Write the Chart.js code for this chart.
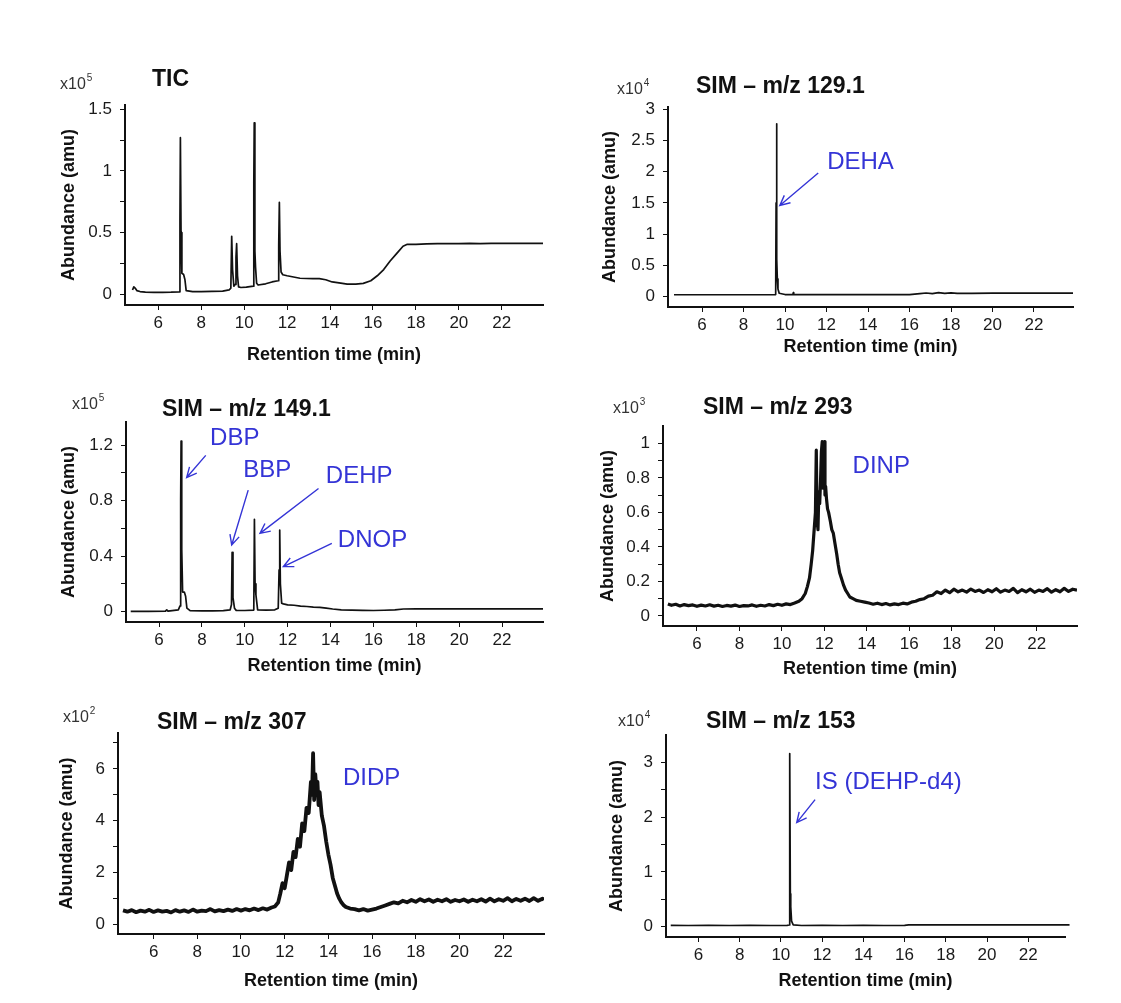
<!DOCTYPE html>
<html>
<head>
<meta charset="utf-8">
<script src="https://cdn.jsdelivr.net/npm/chart.js@4.4.1/dist/chart.umd.min.js"></script>
<style>
  html, body { margin:0; padding:0; background:#fff; }
  body { width:1121px; height:1003px; position:relative; overflow:hidden; }
  canvas { position:absolute; }
</style>
</head>
<body>
<script>
// ---------------- DATA ----------------
const xTickValues = [6, 8, 10, 12, 14, 16, 18, 20, 22];

// TIC (x10^5)
const ticTime = [4.8,4.86,4.92,5.0,5.15,5.4,5.8,6.2,6.6,6.98,7.01,7.03,7.06,7.1,7.18,7.24,7.3,7.6,8.0,8.5,9.0,9.3,9.38,9.42,9.46,9.52,9.58,9.62,9.65,9.69,9.74,9.85,10.1,10.43,10.45,10.47,10.5,10.53,10.58,10.65,11.0,11.3,11.58,11.61,11.64,11.67,11.72,11.8,12.0,12.3,12.6,12.9,13.2,13.5,13.8,14.1,14.5,14.8,15.2,15.55,15.9,16.2,16.5,16.8,17.1,17.4,17.6,18.0,18.5,19.0,19.5,20.0,20.5,21.0,21.5,22.0,22.5,23.0,23.5,23.93];
const ticAbund = [0.035,0.06,0.05,0.03,0.022,0.018,0.016,0.016,0.017,0.02,0.6,1.27,0.5,0.17,0.16,0.12,0.03,0.022,0.022,0.023,0.025,0.035,0.05,0.47,0.2,0.065,0.08,0.3,0.41,0.15,0.06,0.055,0.058,0.066,0.9,1.39,0.35,0.22,0.09,0.075,0.085,0.1,0.11,0.4,0.745,0.35,0.18,0.158,0.15,0.14,0.13,0.128,0.127,0.127,0.118,0.1,0.09,0.083,0.082,0.088,0.11,0.15,0.2,0.27,0.33,0.39,0.405,0.405,0.408,0.41,0.41,0.41,0.412,0.41,0.412,0.412,0.413,0.412,0.413,0.413];
const ticYTicks = [0,0.25,0.5,0.75,1,1.25,1.5];
const ticYLabels = ['0','','0.5','','1','','1.5'];

// SIM m/z 129.1 (x10^4)
const sim129Time = [4.65,5.5,6.5,7.5,8.5,9.3,9.55,9.57,9.59,9.61,9.63,9.66,9.72,10.0,10.38,10.4,10.42,11.0,12.0,13.0,14.0,15.0,16.0,16.5,16.8,17.1,17.4,17.7,18.0,18.3,19.0,20.0,21.0,22.0,23.0,23.88];
const sim129Abund = [0.027,0.027,0.027,0.027,0.027,0.027,0.03,1.5,2.77,0.6,0.28,0.12,0.05,0.03,0.03,0.06,0.03,0.028,0.028,0.028,0.028,0.028,0.03,0.045,0.055,0.045,0.06,0.048,0.058,0.05,0.05,0.052,0.052,0.053,0.053,0.053];
const sim129YTicks = [0,0.5,1,1.5,2,2.5,3];
const sim129YLabels = ['0','0.5','1','1.5','2','2.5','3'];

// SIM m/z 149.1 (x10^5)
const sim149Time = [4.68,5.5,6.3,6.36,6.42,6.9,6.98,7.01,7.03,7.06,7.1,7.18,7.24,7.3,7.45,8.0,8.5,9.0,9.32,9.38,9.41,9.45,9.52,9.6,10.0,10.42,10.45,10.48,10.52,10.6,11.0,11.4,11.56,11.6,11.63,11.66,11.72,11.8,12.0,12.3,12.6,12.9,13.2,13.5,13.8,14.1,14.5,15.0,15.5,16.0,16.5,17.0,17.4,18.0,19.0,20.0,21.0,22.0,23.0,23.92];
const sim149Abund = [0,0,0.002,0.012,0.002,0.012,0.04,0.8,1.23,0.45,0.14,0.14,0.11,0.024,0.006,0.005,0.005,0.006,0.012,0.05,0.427,0.1,0.024,0.008,0.007,0.01,0.665,0.2,0.12,0.012,0.01,0.012,0.024,0.3,0.588,0.2,0.06,0.055,0.048,0.045,0.038,0.036,0.032,0.03,0.024,0.018,0.012,0.01,0.008,0.007,0.009,0.012,0.018,0.019,0.019,0.019,0.019,0.019,0.019,0.019];
const sim149YTicks = [0,0.2,0.4,0.6,0.8,1.0,1.2];
const sim149YLabels = ['0','','0.4','','0.8','','1.2'];

// SIM m/z 293 (x10^3)
const sim293Time = [4.63,4.8,5.0,5.2,5.4,5.6,5.8,6.0,6.2,6.4,6.6,6.8,7.0,7.2,7.4,7.6,7.8,8.0,8.2,8.4,8.6,8.8,9.0,9.2,9.4,9.6,9.8,10.0,10.2,10.4,
  10.6,10.8,10.95,11.1,11.2,11.3,11.38,11.45,11.52,11.58,11.62,11.66,11.7,11.74,11.78,11.82,11.86,11.9,11.94,11.97,12.0,12.03,12.06,12.1,12.15,12.2,12.28,12.35,12.42,12.5,12.58,12.65,12.72,12.8,12.9,13.0,13.1,13.2,13.35,13.5,13.7,
  13.9,14.1,14.3,14.5,14.7,14.9,15.1,15.3,15.5,15.7,15.9,16.1,16.3,16.5,16.7,16.9,17.1,17.3,17.5,17.7,17.9,18.1,18.3,18.5,18.7,18.9,19.1,19.3,19.5,19.7,19.9,20.1,20.3,20.5,20.7,20.9,21.1,21.3,21.5,21.7,21.9,22.1,22.3,22.5,22.7,22.9,23.1,23.3,23.5,23.7,23.9];
const sim293Abund = [0.07,0.062,0.068,0.058,0.066,0.06,0.064,0.056,0.063,0.058,0.065,0.057,0.062,0.055,0.061,0.057,0.063,0.055,0.06,0.058,0.064,0.056,0.062,0.058,0.066,0.06,0.068,0.062,0.07,0.066,
  0.075,0.085,0.1,0.13,0.17,0.22,0.3,0.38,0.5,0.6,0.96,0.55,0.5,0.72,0.65,0.78,0.95,1.01,0.74,0.8,1.01,0.7,0.75,0.68,0.62,0.6,0.55,0.5,0.48,0.42,0.36,0.3,0.25,0.22,0.18,0.15,0.13,0.11,0.1,0.09,0.085,
  0.08,0.075,0.068,0.074,0.066,0.072,0.064,0.07,0.066,0.074,0.07,0.08,0.085,0.095,0.1,0.115,0.12,0.14,0.13,0.15,0.135,0.155,0.14,0.15,0.138,0.156,0.142,0.15,0.136,0.152,0.14,0.158,0.138,0.15,0.142,0.16,0.135,0.152,0.14,0.155,0.137,0.15,0.142,0.158,0.138,0.152,0.14,0.16,0.142,0.155,0.15];
const sim293YTicks = [0,0.1,0.2,0.3,0.4,0.5,0.6,0.7,0.8,0.9,1.0];
const sim293YLabels = ['0','','0.2','','0.4','','0.6','','0.8','','1'];

// SIM m/z 307 (x10^2)
const sim307Time = [4.6,4.8,5.0,5.2,5.4,5.6,5.8,6.0,6.2,6.4,6.6,6.8,7.0,7.2,7.4,7.6,7.8,8.0,8.2,8.4,8.6,8.8,9.0,9.2,9.4,9.6,9.8,10.0,10.2,10.4,10.6,10.8,11.0,11.2,11.4,
  11.55,11.7,11.8,11.9,12.0,12.1,12.2,12.3,12.4,12.5,12.6,12.7,12.8,12.9,13.0,13.1,13.2,13.25,13.3,13.35,13.4,13.45,13.5,13.55,13.6,13.7,13.8,13.9,14.0,14.1,14.2,14.3,14.4,14.5,14.6,14.7,14.8,15.0,
  15.2,15.4,15.6,15.8,16.0,16.2,16.4,16.6,16.8,17.0,17.2,17.4,17.6,17.8,18.0,18.2,18.4,18.6,18.8,19.0,19.2,19.4,19.6,19.8,20.0,20.2,20.4,20.6,20.8,21.0,21.2,21.4,21.6,21.8,22.0,22.2,22.4,22.6,22.8,23.0,23.2,23.4,23.6,23.8,23.87];
const sim307Abund = [0.55,0.5,0.56,0.48,0.54,0.5,0.57,0.49,0.55,0.5,0.53,0.47,0.56,0.5,0.55,0.49,0.58,0.5,0.54,0.52,0.6,0.51,0.56,0.52,0.58,0.53,0.6,0.54,0.6,0.55,0.62,0.56,0.63,0.58,0.66,
  0.7,0.85,1.2,1.6,1.4,1.9,2.4,2.1,2.8,2.6,3.3,3.0,3.9,3.6,4.5,4.3,5.5,5.0,6.6,4.8,5.8,5.2,5.5,4.6,5.1,4.2,3.8,3.2,2.7,2.3,1.8,1.5,1.2,1.0,0.85,0.75,0.68,0.62,
  0.6,0.55,0.6,0.54,0.58,0.62,0.68,0.74,0.8,0.86,0.82,0.92,0.86,0.95,0.88,0.98,0.9,0.97,0.88,0.96,0.9,0.98,0.88,0.95,0.9,0.97,0.88,0.96,0.9,0.98,0.89,1.0,0.9,0.98,0.92,1.02,0.9,0.99,0.92,1.0,0.91,1.02,0.92,1.0,0.96];
const sim307YTicks = [0,1,2,3,4,5,6,7];
const sim307YLabels = ['0','','2','','4','','6',''];

// SIM m/z 153 (x10^4)
const sim153Time = [4.66,5.5,6.5,7.5,8.5,9.5,10.3,10.4,10.42,10.44,10.46,10.48,10.52,10.6,11.0,12.0,13.0,14.0,15.0,16.0,16.2,17.0,18.0,19.0,20.0,21.0,22.0,23.0,24.0];
const sim153Abund = [0.024,0.02,0.022,0.02,0.022,0.02,0.022,0.03,1.5,3.16,0.6,0.36,0.1,0.03,0.02,0.022,0.02,0.022,0.02,0.022,0.03,0.03,0.03,0.03,0.03,0.03,0.03,0.03,0.03];
const sim153YTicks = [0,0.5,1,1.5,2,2.5,3];
const sim153YLabels = ['0','','1','','2','','3'];

// ---------------- STYLE / LAYOUT ----------------
const FONT = '"Liberation Sans", Arial, Helvetica, sans-serif';
const BLUE = '#3434d6';

const panels = [
  { area:[125,105,543,305], yw:67, xh:61, xr:[4.45,23.92], yr:[-0.087,1.535],
    t:ticTime, v:ticAbund, yt:ticYTicks, yl:ticYLabels, lw:1.7, clip:true,
    title:'TIC', titleOff:[27,-25], exp:'5', multOff:[-65,-20], labels:[], arrows:[] },
  { area:[668,107,1073,307], yw:69, xh:51, xr:[4.36,23.88], yr:[-0.17,3.04],
    t:sim129Time, v:sim129Abund, yt:sim129YTicks, yl:sim129YLabels, lw:1.7, clip:true,
    title:'SIM \u2013 m/z 129.1', titleOff:[28,-20], exp:'4', multOff:[-51,-17],
    labels:[{text:'DEHA', x:12.03, y:2.155}], arrows:[[11.6,1.98,9.75,1.46]] },
  { area:[126,422,543,622], yw:68, xh:55, xr:[4.46,23.91], yr:[-0.076,1.368],
    t:sim149Time, v:sim149Abund, yt:sim149YTicks, yl:sim149YLabels, lw:1.7, clip:true,
    title:'SIM \u2013 m/z 149.1', titleOff:[36,-12], exp:'5', multOff:[-54,-17],
    labels:[{text:'DBP', x:8.38, y:1.25},{text:'BBP', x:9.93, y:1.02},{text:'DEHP', x:13.78, y:0.976},{text:'DNOP', x:14.34, y:0.516}],
    arrows:[[8.18,1.127,7.29,0.967],[10.16,0.876,9.39,0.48],[13.44,0.888,10.71,0.564],[14.06,0.492,11.8,0.324]] },
  { area:[663,426,1077,626], yw:66, xh:54, xr:[4.4,23.9], yr:[-0.058,1.1],
    t:sim293Time, v:sim293Abund, yt:sim293YTicks, yl:sim293YLabels, lw:3.2, clip:true,
    title:'SIM \u2013 m/z 293', titleOff:[40,-18], exp:'3', multOff:[-50,-17],
    labels:[{text:'DINP', x:13.33, y:0.869}], arrows:[] },
  { area:[118,733,544,934], yw:62, xh:58, xr:[4.37,23.87], yr:[-0.36,7.38],
    t:sim307Time, v:sim307Abund, yt:sim307YTicks, yl:sim307YLabels, lw:3.8, clip:true,
    title:'SIM \u2013 m/z 307', titleOff:[39,-10], exp:'2', multOff:[-55,-15],
    labels:[{text:'DIDP', x:14.67, y:5.65}], arrows:[] },
  { area:[666,735,1065,937], yw:60, xh:55, xr:[4.43,23.78], yr:[-0.19,3.5],
    t:sim153Time, v:sim153Abund, yt:sim153YTicks, yl:sim153YLabels, lw:1.7, clip:false,
    title:'SIM \u2013 m/z 153', titleOff:[40,-13], exp:'4', multOff:[-48,-13],
    labels:[{text:'IS (DEHP-d4)', x:11.66, y:2.63}], arrows:[[11.66,2.32,10.77,1.90]] }
];

const decor = {
  id: 'decor',
  afterDraw(chart, args, o) {
    const ctx = chart.ctx, a = chart.chartArea, xs = chart.scales.x, ys = chart.scales.y;
    ctx.save();
    ctx.textBaseline = 'middle';
    ctx.textAlign = 'left';
    // panel title
    ctx.fillStyle = '#111';
    ctx.font = 'bold 23px ' + FONT;
    ctx.fillText(o.title, a.left + o.titleOff[0], a.top + o.titleOff[1]);
    // multiplier x10^n
    const mx = a.left + o.multOff[0], my = a.top + o.multOff[1];
    ctx.fillStyle = '#333';
    ctx.font = '16px ' + FONT;
    ctx.fillText('x10', mx, my);
    const w = ctx.measureText('x10').width;
    ctx.font = '10px ' + FONT;
    ctx.fillText(o.exp, mx + w + 1, my - 7);
    // compound labels
    ctx.fillStyle = BLUE;
    ctx.font = '24px ' + FONT;
    for (const l of o.labels) ctx.fillText(l.text, xs.getPixelForValue(l.x), ys.getPixelForValue(l.y));
    // arrows
    ctx.strokeStyle = BLUE;
    ctx.lineWidth = 1.4;
    for (const ar of o.arrows) {
      const x1 = xs.getPixelForValue(ar[0]), y1 = ys.getPixelForValue(ar[1]);
      const x2 = xs.getPixelForValue(ar[2]), y2 = ys.getPixelForValue(ar[3]);
      const ang = Math.atan2(y2 - y1, x2 - x1), L = 11, s = 0.45;
      ctx.beginPath();
      ctx.moveTo(x1, y1); ctx.lineTo(x2, y2);
      ctx.moveTo(x2 - L * Math.cos(ang - s), y2 - L * Math.sin(ang - s));
      ctx.lineTo(x2, y2);
      ctx.lineTo(x2 - L * Math.cos(ang + s), y2 - L * Math.sin(ang + s));
      ctx.stroke();
    }
    ctx.restore();
  }
};

const PAD_TOP = 60, PAD_RIGHT = 14;

panels.forEach((p, i) => {
  const [l, t, r, b] = p.area;
  const cv = document.createElement('canvas');
  const W = (r - l) + p.yw + PAD_RIGHT, H = PAD_TOP + (b - t) + p.xh;
  cv.width = W; cv.height = H;
  cv.style.left = (l - p.yw) + 'px';
  cv.style.top = (t - PAD_TOP) + 'px';
  cv.style.width = W + 'px'; cv.style.height = H + 'px';
  document.body.appendChild(cv);

  new Chart(cv.getContext('2d'), {
    type: 'line',
    data: {
      datasets: [{
        data: p.t.map((tt, k) => ({ x: tt, y: p.v[k] })),
        borderColor: '#111',
        borderWidth: p.lw,
        pointRadius: 0,
        tension: 0,
        fill: false,
        clip: p.clip ? undefined : false,
        borderJoinStyle: 'round'
      }]
    },
    options: {
      responsive: false,
      animation: false,
      devicePixelRatio: 1,
      layout: { padding: { left: 0, top: PAD_TOP, right: PAD_RIGHT, bottom: 0 } },
      plugins: {
        legend: { display: false },
        tooltip: { enabled: false },
        decor: { title: p.title, titleOff: p.titleOff, exp: p.exp, multOff: p.multOff, labels: p.labels, arrows: p.arrows }
      },
      scales: {
        x: {
          type: 'linear', min: p.xr[0], max: p.xr[1],
          afterFit: s => { s.height = p.xh; },
          afterBuildTicks: s => { s.ticks = xTickValues.map(v => ({ value: v })); },
          ticks: { autoSkip: false, maxRotation: 0, padding: 3, color: '#1a1a1a',
                   font: { family: FONT, size: 17 }, callback: v => String(v) },
          grid: { display: true, drawOnChartArea: false, drawTicks: true, tickLength: 5, color: '#111', lineWidth: 1 },
          border: { display: true, color: '#111', width: 2 },
          title: { display: true, text: 'Retention time (min)', color: '#111', padding: 0,
                   font: { family: FONT, size: 18, weight: 'bold' } }
        },
        y: {
          type: 'linear', min: p.yr[0], max: p.yr[1],
          afterFit: s => { s.width = p.yw; },
          afterBuildTicks: s => { s.ticks = p.yt.map(v => ({ value: v })); },
          ticks: { autoSkip: false, padding: 8, color: '#1a1a1a',
                   font: { family: FONT, size: 17 }, callback: (v, k) => p.yl[k] },
          grid: { display: true, drawOnChartArea: false, drawTicks: true, tickLength: 5, color: '#111', lineWidth: 1 },
          border: { display: true, color: '#111', width: 2 },
          title: { display: true, text: 'Abundance (amu)', color: '#111', padding: 0,
                   font: { family: FONT, size: 18, weight: 'bold' } }
        }
      }
    },
    plugins: [decor]
  });
});
</script>
</body>
</html>
